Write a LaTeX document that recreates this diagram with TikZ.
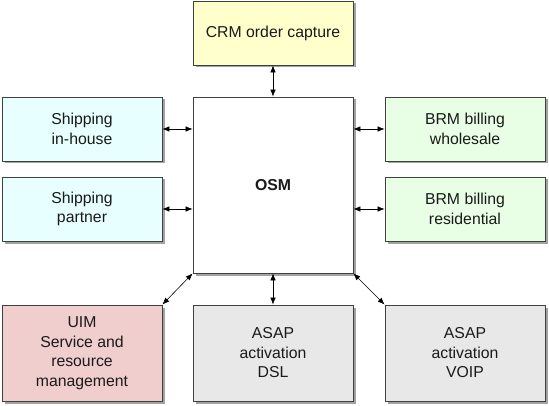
\documentclass[tikz,border=0pt]{standalone}
\usepackage{fontspec}
\setmainfont{Liberation Sans}
\usetikzlibrary{arrows.meta,shadows}
\definecolor{crmfill}{HTML}{FFFFCC}
\definecolor{shipfill}{HTML}{E8FFFF}
\definecolor{brmfill}{HTML}{E8FFE6}
\definecolor{uimfill}{HTML}{F0CECE}
\definecolor{asapfill}{HTML}{E8E8E8}
\definecolor{edge}{HTML}{404040}
\definecolor{txt}{HTML}{1A1A1A}
\begin{document}
\begin{tikzpicture}[x=1pt,y=1pt,
  box/.style={draw=edge, line width=0.8pt, align=center, text=txt,
    font=\fontsize{15.8}{19.5}\selectfont, inner sep=0pt,
    drop shadow={shadow xshift=2.5pt, shadow yshift=-2.5pt, fill=black!45, opacity=0.8}},
  small/.style={box, minimum width=160pt, minimum height=64pt},
  tall/.style={box, minimum width=160pt, minimum height=96pt},
  link/.style={{Latex[length=7pt,width=5.5pt]}-{Latex[length=7pt,width=5.5pt]}, line width=0.6pt, black}]
\useasboundingbox (0,0) rectangle (549,405);
\node[small, fill=crmfill] (crm) at (273,372) {CRM order capture};
\node[box, fill=white, minimum width=160pt, minimum height=176pt, font=\fontsize{15.8}{19.5}\selectfont\bfseries] (osm) at (273,220) {OSM};
\node[small, fill=shipfill] (shipin) at (82,276) {Shipping\\in-house};
\node[small, fill=shipfill] (shippa) at (82,196) {Shipping\\partner};
\node[small, fill=brmfill] (brmw) at (465,276) {BRM billing\\wholesale};
\node[small, fill=brmfill] (brmr) at (465,196) {BRM billing\\residential};
\node[tall, fill=uimfill] (uim) at (82,52) {UIM\\Service and\\resource\\management};
\node[tall, fill=asapfill] (dsl) at (273,52) {ASAP\\activation\\DSL};
\node[tall, fill=asapfill] (voip) at (465,52) {ASAP\\activation\\VOIP};
\draw[link] (crm.south) -- (osm.north);
\draw[link] (shipin.east) -- (shipin.east -| osm.west);
\draw[link] (shippa.east) -- (shippa.east -| osm.west);
\draw[link] (brmw.west) -- (brmw.west -| osm.east);
\draw[link] (brmr.west) -- (brmr.west -| osm.east);
\draw[link] (osm.south west) -- (uim.north east);
\draw[link] (osm.south) -- (dsl.north);
\draw[link] (osm.south east) -- (voip.north west);
\end{tikzpicture}
\end{document}
